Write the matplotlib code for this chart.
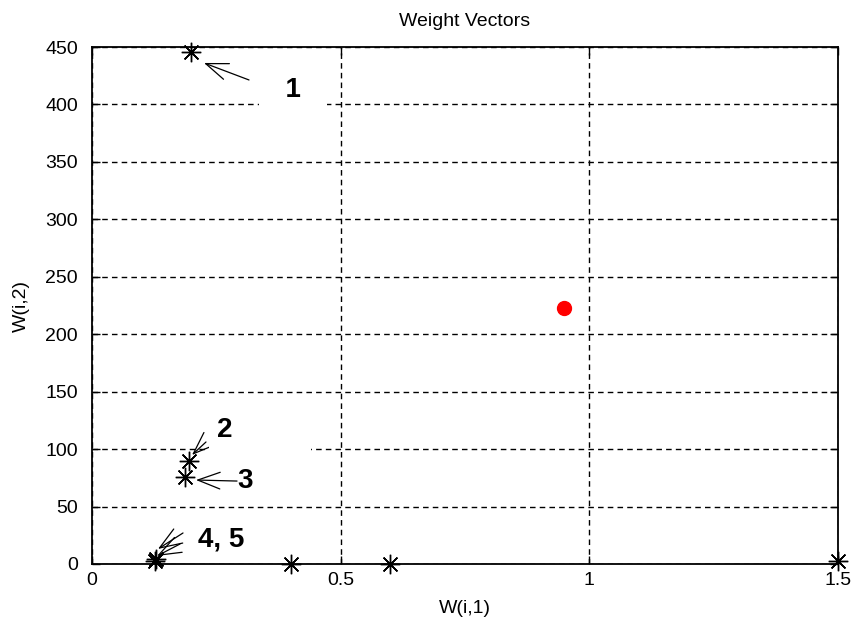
import numpy as np
import matplotlib
matplotlib.use("Agg")
from matplotlib import pyplot as plt

plt.rcParams['font.family'] = ['Liberation Sans', 'DejaVu Sans']

# weight vectors (black stars) and the input point (red dot)
w1 = [0.2, 0.195, 0.187, 0.127, 0.128, 0.4, 0.6, 1.5]
w2 = [446, 90, 76, 3, 4, 0, 0, 3]
inp_x = [0.95]
inp_y = [223]

# annotation labels: text, label pos, arrow tail, arrow tip
labels = ["1", "2", "3", "4, 5"]
label_pos = [(0.404, 413), (0.2513, 116.6), (0.3076, 72.2), (0.2594, 20.9)]
arrows = [((0.3157, 421.3), (0.2252, 436.1)),
          ((0.2292, 106.2), (0.2011, 94.9)),
          ((0.2916, 72.2), (0.2091, 73.1)),
          ((0.183, 27.0), (0.1327, 13.1)),
          ((0.1769, 17.4), (0.1307, 7.0))]

xticks = [0, 0.5, 1, 1.5]
xticklabels = ["0", "0.5", "1", "1.5"]
yticks = np.arange(0, 451, 50)

fig = plt.figure(figsize=(8.53, 6.19), dpi=100)
ax = fig.add_axes([92/853, 55/619, 746/853, 517/619])

ax.set_xlim(0, 1.5)
ax.set_ylim(0, 450)
ax.set_xticks(xticks)
ax.set_xticklabels(xticklabels)
ax.set_yticks(yticks)
ax.tick_params(direction='in', length=6, width=1, labelsize=14, pad=6,
               top=True, right=True, colors='black')
ax.tick_params(axis='y', pad=10)
ax.grid(True, color='black', linestyle=(0, (4, 3)), linewidth=1)
for s in ax.spines.values():
    s.set_linewidth(1.3)

ax.plot(w1, w2, linestyle='none', marker=(8, 2, 0), markersize=14,
        markeredgewidth=1, color='black', clip_on=False, zorder=5)
ax.plot(w1, w2, linestyle='none', marker='o', markersize=3,
        color='black', clip_on=False, zorder=5)
ax.plot(inp_x, inp_y, linestyle='none', marker='o', markersize=10,
        color='red', zorder=5)

for (tail, tip) in arrows:
    ax.annotate("", xy=tip, xytext=tail,
                arrowprops=dict(arrowstyle='->,head_length=1.6,head_width=0.6',
                                color='black', lw=0.9, shrinkA=0, shrinkB=0))

# label boxes hide the grid behind them, as in the original
ax.text(label_pos[0][0], label_pos[0][1], "  " + labels[0] + "  ", fontsize=20,
        fontweight='bold', ha='center', va='center', zorder=4,
        bbox=dict(facecolor='white', edgecolor='none', boxstyle='square,pad=0.4'))
ax.text(label_pos[1][0], label_pos[1][1], labels[1] + " " * 9, fontsize=20,
        fontweight='bold', ha='left', va='center', zorder=4,
        bbox=dict(facecolor='white', edgecolor='none', boxstyle='square,pad=0.3'))
ax.text(label_pos[2][0], label_pos[2][1], labels[2], fontsize=20,
        fontweight='bold', ha='center', va='center', zorder=4)
ax.text(label_pos[3][0], label_pos[3][1], labels[3], fontsize=20,
        fontweight='bold', ha='center', va='center', zorder=4)

ax.set_title("Weight Vectors", fontsize=14, pad=15)
ax.set_xlabel("W(i,1)", fontsize=14, labelpad=8)
ax.set_ylabel("W(i,2)", fontsize=14, labelpad=11)

fig.savefig("out.png", dpi=100, facecolor='white')
